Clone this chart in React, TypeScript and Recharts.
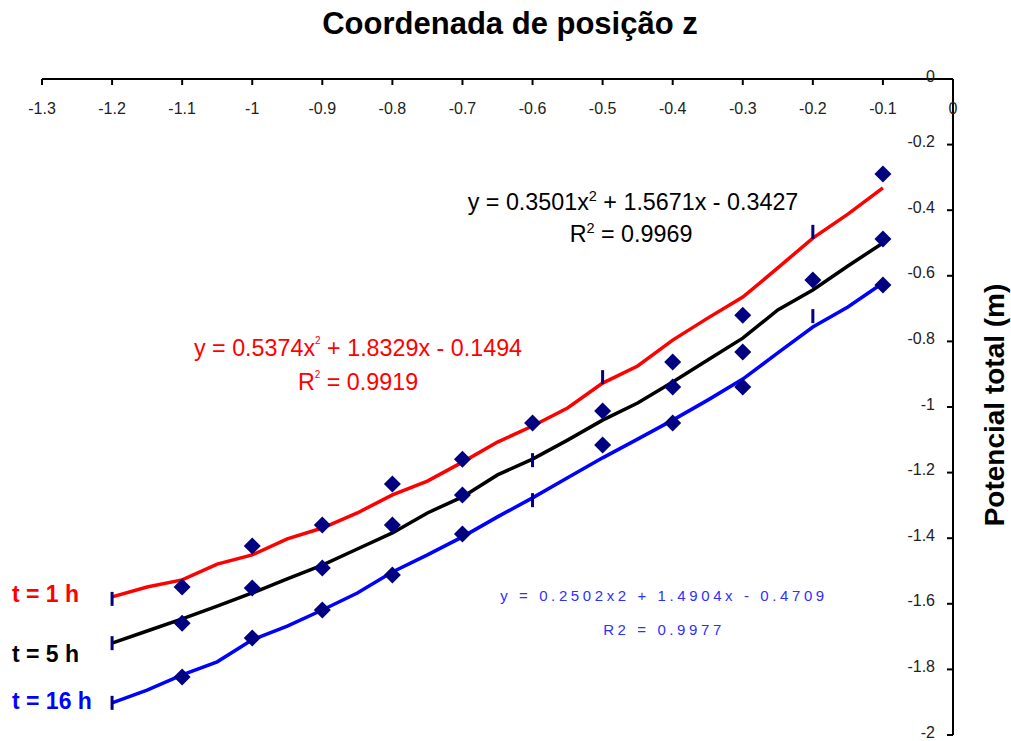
import { ComposedChart, Line, Scatter, XAxis, YAxis } from "recharts";

// fitted curves, sampled every 0.05 m
const fitZ = [
  -1.2, -1.15, -1.1, -1.05, -1.0, -0.95, -0.9, -0.85, -0.8, -0.75, -0.7, -0.65,
  -0.6, -0.55, -0.5, -0.45, -0.4, -0.35, -0.3, -0.25, -0.2, -0.15, -0.1,
];
const fit1h = [
  -1.579, -1.549, -1.527, -1.479, -1.451, -1.402, -1.369, -1.323, -1.268, -1.226, -1.168, -1.107,
  -1.058, -1.003, -0.927, -0.875, -0.796, -0.729, -0.665, -0.576, -0.485, -0.412, -0.332,
];
const fit5h = [
  -1.72, -1.683, -1.646, -1.607, -1.567, -1.524, -1.482, -1.433, -1.384, -1.323, -1.274, -1.207,
  -1.159, -1.101, -1.04, -0.988, -0.924, -0.857, -0.79, -0.704, -0.643, -0.57, -0.5,
];
const fit16h = [
  -1.902, -1.863, -1.817, -1.777, -1.71, -1.668, -1.619, -1.567, -1.503, -1.451, -1.396, -1.335,
  -1.277, -1.216, -1.155, -1.098, -1.04, -0.979, -0.915, -0.835, -0.756, -0.695, -0.622,
];

// measured points
const obsZ = [-1.2, -1.1, -1.0, -0.9, -0.8, -0.7, -0.6, -0.5, -0.4, -0.3, -0.2, -0.1];
const obs1h = [-1.585, -1.549, -1.424, -1.36, -1.235, -1.159, -1.049, -0.909, -0.863, -0.72, -0.466, -0.29];
const obs5h = [-1.72, -1.659, -1.552, -1.491, -1.36, -1.268, -1.162, -1.012, -0.939, -0.832, -0.613, -0.488];
const obs16h = [-1.902, -1.823, -1.704, -1.619, -1.512, -1.387, -1.284, -1.116, -1.049, -0.939, -0.723, -0.628];
// points drawn as a short dash instead of a diamond
const dashZ1h = [-1.2, -0.5, -0.2];
const dashZ5h = [-1.2, -0.6];
const dashZ16h = [-1.2, -0.6, -0.2];

const xTicks = [-1.3, -1.2, -1.1, -1.0, -0.9, -0.8, -0.7, -0.6, -0.5, -0.4, -0.3, -0.2, -0.1, 0];
const yTicks = [0, -0.2, -0.4, -0.6, -0.8, -1, -1.2, -1.4, -1.6, -1.8, -2];

const NAVY = "#000080";
const FONT = "'Liberation Sans', Arial, sans-serif";

const toPts = (xs: number[], ys: number[]) => xs.map((x, i) => ({ x, y: ys[i] }));
const diamonds = (ys: number[], dash: number[]) =>
  toPts(obsZ, ys).filter((p) => !dash.includes(p.x));
const dashes = (ys: number[], dash: number[]) =>
  toPts(obsZ, ys).filter((p) => dash.includes(p.x));

const Diamond = (p: any) => {
  const { cx, cy } = p;
  const r = 8.5;
  return <path d={`M${cx},${cy - r}L${cx + r},${cy}L${cx},${cy + r}L${cx - r},${cy}Z`} fill={NAVY} />;
};
const Dash = (p: any) => <rect x={p.cx - 1.5} y={p.cy - 7} width={3} height={14} fill={NAVY} />;

const txt = (left: number, top: number, width: number, style: any, children: any) => (
  <div
    style={{
      position: "absolute",
      left: left - width / 2,
      top,
      width,
      textAlign: "center",
      whiteSpace: "nowrap",
      ...style,
    }}
  >
    {children}
  </div>
);

export default function App() {
  const lineColors = { t1: "#ff0000", t5: "#000000", t16: "#0000ff" };
  const tickStyle = { fontSize: 16, fill: "#222", fontFamily: FONT };
  const sup1 = { fontSize: 14.5, verticalAlign: "9px", lineHeight: 0 };
  const sup2 = { fontSize: 10, verticalAlign: "12px", lineHeight: 0 };
  const legend = { position: "absolute" as const, left: 12, fontSize: 23, lineHeight: "23px", fontWeight: "bold", whiteSpace: "nowrap" as const };

  return (
    <div style={{ position: "absolute", left: 0, top: 0, width: 1011, height: 741, background: "#fff", fontFamily: FONT }}>
      <ComposedChart width={1011} height={741} margin={{ top: 79, right: 58, bottom: 6, left: 42 }}>
        <XAxis
          type="number"
          dataKey="x"
          orientation="top"
          mirror
          domain={[-1.3, 0]}
          ticks={xTicks}
          interval={0}
          allowDataOverflow
          axisLine={{ stroke: "#000", strokeWidth: 2 }}
          tickLine={{ stroke: "#000", strokeWidth: 2 }}
          tickSize={6}
          tickMargin={18}
          tick={tickStyle}
          tickFormatter={(v: number) => String(v)}
        />
        <YAxis
          type="number"
          dataKey="y"
          orientation="right"
          mirror
          domain={[-2, 0]}
          ticks={yTicks}
          interval={0}
          allowDataOverflow
          axisLine={{ stroke: "#000", strokeWidth: 2 }}
          tickLine={{ stroke: "#000", strokeWidth: 2 }}
          tickSize={6}
          tickMargin={12}
          tick={{ ...tickStyle, dy: -3 }}
          tickFormatter={(v: number) => String(v)}
        />
        <Line data={toPts(fitZ, fit1h)} dataKey="y" type="linear" stroke={lineColors.t1} strokeWidth={3.5} dot={false} isAnimationActive={false} />
        <Line data={toPts(fitZ, fit5h)} dataKey="y" type="linear" stroke={lineColors.t5} strokeWidth={3.5} dot={false} isAnimationActive={false} />
        <Line data={toPts(fitZ, fit16h)} dataKey="y" type="linear" stroke={lineColors.t16} strokeWidth={3.5} dot={false} isAnimationActive={false} />
        <Scatter data={diamonds(obs1h, dashZ1h)} shape={Diamond} isAnimationActive={false} />
        <Scatter data={diamonds(obs5h, dashZ5h)} shape={Diamond} isAnimationActive={false} />
        <Scatter data={diamonds(obs16h, dashZ16h)} shape={Diamond} isAnimationActive={false} />
        <Scatter data={dashes(obs1h, dashZ1h)} shape={Dash} isAnimationActive={false} />
        <Scatter data={dashes(obs5h, dashZ5h)} shape={Dash} isAnimationActive={false} />
        <Scatter data={dashes(obs16h, dashZ16h)} shape={Dash} isAnimationActive={false} />
      </ComposedChart>

      {txt(510, 8, 500, { fontSize: 31, fontWeight: "bold", lineHeight: "31px", color: "#000" }, "Coordenada de posição z")}

      <div
        style={{
          position: "absolute",
          left: 995 - 160,
          top: 405 - 14,
          width: 320,
          height: 28,
          lineHeight: "28px",
          fontSize: 28,
          fontWeight: "bold",
          textAlign: "center",
          whiteSpace: "nowrap",
          transform: "rotate(-90deg)",
          transformOrigin: "center",
        }}
      >
        Potencial total (m)
      </div>

      {txt(633, 190, 400, { fontSize: 23.3, lineHeight: "24px", color: "#000" }, <>y = 0.3501x<sup style={sup1}>2</sup> + 1.5671x - 0.3427</>)}
      {txt(631, 222, 200, { fontSize: 23.3, lineHeight: "24px", color: "#000" }, <>R<sup style={sup1}>2</sup> = 0.9969</>)}

      {txt(358, 336, 400, { fontSize: 23.3, lineHeight: "24px", color: "#ff0000" }, <>y = 0.5374x<sup style={sup2}>2</sup> + 1.8329x - 0.1494</>)}
      {txt(358, 370, 200, { fontSize: 23.3, lineHeight: "24px", color: "#ff0000" }, <>R<sup style={sup2}>2</sup> = 0.9919</>)}

      {txt(664, 588, 400, { fontSize: 15, lineHeight: "15px", letterSpacing: "3.6px", color: "#2f2fff" }, "y = 0.2502x2 + 1.4904x - 0.4709")}
      {txt(664, 622, 200, { fontSize: 15, lineHeight: "15px", letterSpacing: "3.6px", color: "#2f2fff" }, "R2 = 0.9977")}

      <div style={{ ...legend, top: 583, color: "#ff0000" }}>t = 1 h</div>
      <div style={{ ...legend, top: 643, color: "#000" }}>t = 5 h</div>
      <div style={{ ...legend, top: 690, color: "#0000ff" }}>t = 16 h</div>
    </div>
  );
}
